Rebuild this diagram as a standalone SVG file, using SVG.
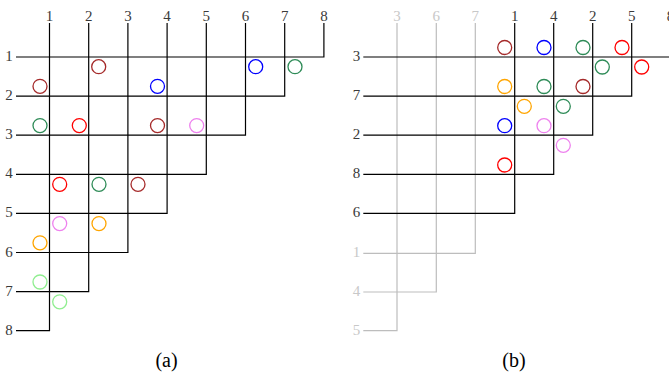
<svg xmlns="http://www.w3.org/2000/svg" width="669" height="373" viewBox="0 0 669 373">
<style>
.w{fill:none;stroke:#000;stroke-width:1.2}
.g{fill:none;stroke:#bdbdbd;stroke-width:1.2}
.t{font-family:"Liberation Serif",serif;font-size:15px;fill:#3a3a3a;text-anchor:middle}
.tg{font-family:"Liberation Serif",serif;font-size:15px;fill:#c8c8c8;text-anchor:middle}
.cap{font-family:"Liberation Serif",serif;font-size:20px;fill:#000;text-anchor:middle}
circle{fill:none;stroke-width:1.3}
.br{stroke:#a52a2a}.bl{stroke:#0000ff}.gr{stroke:#2e8b57}.rd{stroke:#ff0000}.vi{stroke:#ee82ee}.or{stroke:#ffa500}.lg{stroke:#90ee90}
</style>
<g id="diagram-a">
<g id="a-wires">
<path class="w" d="M16 57H323.9V23"/>
<path class="w" d="M16 96.1H284.7V23"/>
<path class="w" d="M16 135.2H245.5V23"/>
<path class="w" d="M16 174.3H206.3V23"/>
<path class="w" d="M16 213.4H167.1V23"/>
<path class="w" d="M16 252.5H127.9V23"/>
<path class="w" d="M16 291.6H88.7V23"/>
<path class="w" d="M16 330.7H49.5V23"/>
</g>
<g id="a-labels">
<text class="t" x="49.5" y="21">1</text>
<text class="t" x="88.7" y="21">2</text>
<text class="t" x="127.9" y="21">3</text>
<text class="t" x="167.1" y="21">4</text>
<text class="t" x="206.3" y="21">5</text>
<text class="t" x="245.5" y="21">6</text>
<text class="t" x="284.7" y="21">7</text>
<text class="t" x="323.9" y="21">8</text>
<text class="t" x="9" y="61">1</text>
<text class="t" x="9" y="100.1">2</text>
<text class="t" x="9" y="139.2">3</text>
<text class="t" x="9" y="178.3">4</text>
<text class="t" x="9" y="217.4">5</text>
<text class="t" x="9" y="256.5">6</text>
<text class="t" x="9" y="295.6">7</text>
<text class="t" x="9" y="334.7">8</text>
</g>
<g id="a-marks">
<circle class="br" cx="98.7" cy="66.7" r="7"/>
<circle class="bl" cx="255.7" cy="66.7" r="7"/>
<circle class="gr" cx="295" cy="66.7" r="7"/>
<circle class="br" cx="40" cy="86.3" r="7"/>
<circle class="bl" cx="157.5" cy="86.3" r="7"/>
<circle class="gr" cx="40" cy="125.6" r="7"/>
<circle class="rd" cx="79.3" cy="125.6" r="7"/>
<circle class="br" cx="157.5" cy="125.6" r="7"/>
<circle class="vi" cx="196.7" cy="125.6" r="7"/>
<circle class="rd" cx="59.7" cy="184.3" r="7"/>
<circle class="gr" cx="99" cy="184.3" r="7"/>
<circle class="br" cx="138" cy="184.3" r="7"/>
<circle class="vi" cx="59.7" cy="223.6" r="7"/>
<circle class="or" cx="99" cy="223.6" r="7"/>
<circle class="or" cx="40" cy="242.8" r="7"/>
<circle class="lg" cx="40" cy="282" r="7"/>
<circle class="lg" cx="59.7" cy="301.8" r="7"/>
</g>
<text class="cap" x="166.5" y="367">(a)</text>
</g>
<g id="diagram-b">
<g id="b-wires">
<path class="g" d="M363.3 253.3H475.3V23"/>
<path class="g" d="M363.3 292H436.3V23"/>
<path class="g" d="M363.3 330.7H397V23"/>
<path class="w" d="M363.3 57H671V23"/>
<path class="w" d="M363.3 96.1H631.7V23"/>
<path class="w" d="M363.3 135.2H592.7V23"/>
<path class="w" d="M363.3 174.3H553.7V23"/>
<path class="w" d="M363.3 213.4H514.7V23"/>
</g>
<g id="b-labels">
<text class="tg" x="397" y="21">3</text>
<text class="tg" x="436.3" y="21">6</text>
<text class="tg" x="475.3" y="21">7</text>
<text class="t" x="514.7" y="21">1</text>
<text class="t" x="553.7" y="21">4</text>
<text class="t" x="592.7" y="21">2</text>
<text class="t" x="631.7" y="21">5</text>
<text class="t" x="670.5" y="21">8</text>
<text class="t" x="356.5" y="61">3</text>
<text class="t" x="356.5" y="100.1">7</text>
<text class="t" x="356.5" y="139.2">2</text>
<text class="t" x="356.5" y="178.3">8</text>
<text class="t" x="356.5" y="217.4">6</text>
<text class="tg" x="356.5" y="257.3">1</text>
<text class="tg" x="356.5" y="296">4</text>
<text class="tg" x="356.5" y="334.7">5</text>
</g>
<g id="b-marks">
<circle class="br" cx="504.7" cy="47.5" r="7"/>
<circle class="bl" cx="544" cy="47.5" r="7"/>
<circle class="gr" cx="583" cy="47.5" r="7"/>
<circle class="rd" cx="622" cy="47.5" r="7"/>
<circle class="gr" cx="602.3" cy="67" r="7"/>
<circle class="rd" cx="641.7" cy="67" r="7"/>
<circle class="or" cx="504.7" cy="86.5" r="7"/>
<circle class="gr" cx="544" cy="86.5" r="7"/>
<circle class="br" cx="583" cy="86.5" r="7"/>
<circle class="or" cx="524.3" cy="106.3" r="7"/>
<circle class="gr" cx="563.3" cy="106.3" r="7"/>
<circle class="bl" cx="504.7" cy="125.7" r="7"/>
<circle class="vi" cx="544" cy="125.7" r="7"/>
<circle class="vi" cx="563.3" cy="145.3" r="7"/>
<circle class="rd" cx="504.7" cy="165" r="7"/>
</g>
<text class="cap" x="514" y="367">(b)</text>
</g>
</svg>
